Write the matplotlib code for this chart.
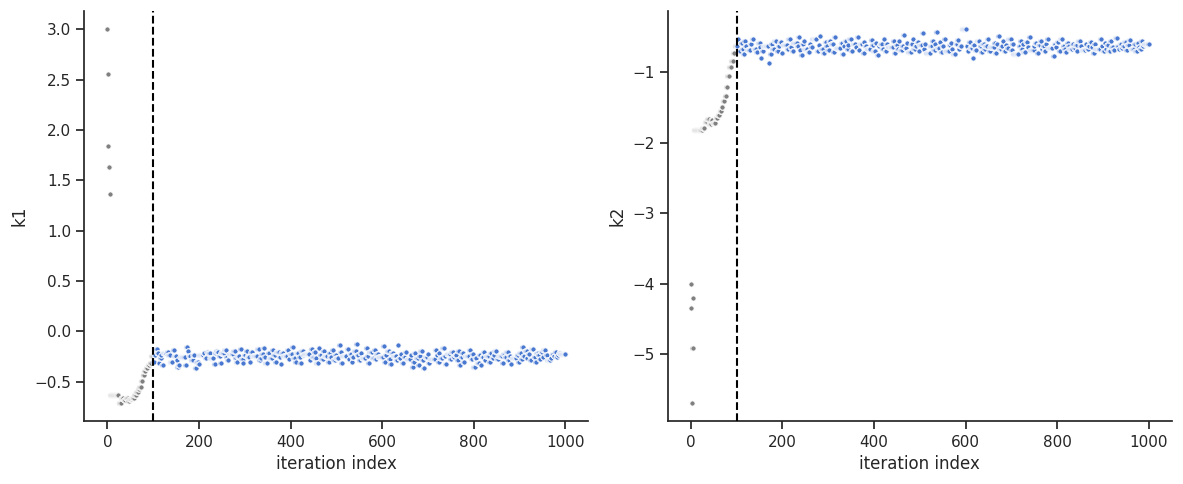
import numpy as np
import matplotlib
matplotlib.use("Agg")
import matplotlib.pyplot as plt
import seaborn as sns

# ---- data: MCMC chain stored as accepted states and how many iterations each lasted ----
burn_runs = [1, 1, 1, 2, 1, 19, 5, 6, 4, 5, 3, 6, 5, 4, 4, 3, 4, 3, 3, 4, 4, 4, 4, 4]
k1_burn = [3.00, 2.56, 1.84, 1.63, 1.36, -0.63, -0.71, -0.66, -0.68, -0.66,
           -0.69, -0.67, -0.66, -0.63, -0.60, -0.57, -0.55, -0.49, -0.43, -0.39,
           -0.36, -0.33, -0.31, -0.25]
k2_burn = [-4.00, -4.34, -5.69, -4.91, -4.20, -1.82, -1.79, -1.70, -1.66, -1.73,
           -1.68, -1.72, -1.65, -1.60, -1.55, -1.49, -1.40, -1.33, -1.20, -1.05,
           -0.92, -0.84, -0.72, -0.62]

post_runs = [
    2, 3, 4, 3, 2, 3, 2, 3, 8, 3,
    4, 6, 3, 5, 2, 2, 3, 12, 2, 3,
    3, 4, 5, 4, 3, 4, 3, 9, 3, 4,
    3, 4, 8, 3, 3, 2, 3, 3, 2, 7,
    5, 2, 3, 10, 4, 2, 3, 5, 3, 4,
    2, 4, 3, 6, 2, 3, 11, 4, 3, 2,
    4, 3, 2, 5, 3, 7, 2, 4, 3, 6,
    3, 2, 4, 9, 3, 2, 5, 3, 4, 2,
    6, 3, 2, 4, 3, 12, 2, 3, 4, 3,
    2, 5, 3, 3, 4, 2, 8, 3, 2, 4,
    3, 4, 2, 6, 3, 3, 2, 10, 4, 2,
    4, 2, 3, 5, 2, 4, 3, 3, 9, 3,
    2, 3, 6, 4, 3, 2, 4, 11, 2, 3,
    3, 5, 2, 3, 4, 7, 3, 2, 4, 3,
    4, 3, 3, 9, 2, 4, 2, 3, 5, 3,
    2, 4, 3, 3, 6, 2, 3, 12, 3, 2,
    3, 2, 5, 4, 3, 3, 8, 2, 4, 3,
    5, 3, 2, 3, 4, 2, 3, 10, 3, 4,
    2, 4, 3, 6, 3, 2, 4, 3, 2, 7,
    3, 3, 4, 2, 5, 3, 9, 2, 4, 3,
    4, 2, 3, 3, 11, 3, 2, 4, 3, 2,
    3, 5, 2, 4, 3, 6, 3, 2, 4, 3,
    3, 4, 2, 5, 3, 8, 2, 4, 3, 3,
    3, 2, 4, 12,
]
k1_post = [
    -0.30, -0.24, -0.18, -0.22, -0.31, -0.27, -0.24, -0.33, -0.22, -0.21,
    -0.24, -0.30, -0.19, -0.25, -0.29, -0.35, -0.33, -0.26, -0.33, -0.16,
    -0.20, -0.25, -0.29, -0.24, -0.36, -0.30, -0.32, -0.24, -0.22, -0.27,
    -0.21, -0.22, -0.27, -0.32, -0.22, -0.20, -0.21, -0.25, -0.31, -0.22,
    -0.19, -0.26, -0.29, -0.23, -0.20, -0.27, -0.30, -0.25, -0.18, -0.28,
    -0.31, -0.24, -0.20, -0.26, -0.30, -0.21, -0.25, -0.18, -0.29, -0.27,
    -0.23, -0.17, -0.26, -0.31, -0.22, -0.27, -0.19, -0.24, -0.30, -0.21,
    -0.26, -0.32, -0.22, -0.25, -0.19, -0.28, -0.23, -0.16, -0.27, -0.30,
    -0.22, -0.26, -0.31, -0.20, -0.24, -0.23, -0.29, -0.18, -0.26, -0.21,
    -0.27, -0.31, -0.17, -0.24, -0.28, -0.20, -0.25, -0.30, -0.22, -0.26,
    -0.19, -0.29, -0.24, -0.27, -0.14, -0.21, -0.31, -0.25, -0.18, -0.28,
    -0.23, -0.30, -0.26, -0.20, -0.13, -0.24, -0.29, -0.22, -0.27, -0.17,
    -0.25, -0.31, -0.21, -0.27, -0.19, -0.28, -0.23, -0.26, -0.15, -0.30,
    -0.24, -0.20, -0.28, -0.32, -0.22, -0.25, -0.29, -0.14, -0.27, -0.23,
    -0.31, -0.26, -0.21, -0.28, -0.24, -0.35, -0.30, -0.22, -0.27, -0.33,
    -0.25, -0.20, -0.29, -0.36, -0.26, -0.23, -0.31, -0.28, -0.19, -0.24,
    -0.30, -0.22, -0.27, -0.17, -0.25, -0.32, -0.23, -0.28, -0.21, -0.26,
    -0.24, -0.29, -0.20, -0.33, -0.26, -0.22, -0.30, -0.25, -0.19, -0.28,
    -0.23, -0.35, -0.27, -0.31, -0.24, -0.33, -0.26, -0.21, -0.29, -0.25,
    -0.30, -0.22, -0.27, -0.24, -0.20, -0.28, -0.25, -0.31, -0.23, -0.26,
    -0.21, -0.29, -0.25, -0.32, -0.27, -0.24, -0.30, -0.22, -0.28, -0.16,
    -0.25, -0.20, -0.27, -0.23, -0.29, -0.18, -0.26, -0.30, -0.22, -0.24,
    -0.28, -0.21, -0.26, -0.19, -0.24, -0.29, -0.27, -0.23, -0.25, -0.21,
    -0.26, -0.24, -0.22, -0.23,
]
k2_post = [
    -0.62, -0.52, -0.70, -0.58, -0.66, -0.74, -0.55, -0.63, -0.68, -0.60,
    -0.53, -0.66, -0.71, -0.58, -0.64, -0.79, -0.69, -0.62, -0.86, -0.74,
    -0.60, -0.66, -0.55, -0.70, -0.63, -0.57, -0.72, -0.61, -0.67, -0.53,
    -0.64, -0.70, -0.58, -0.62, -0.50, -0.68, -0.75, -0.60, -0.55, -0.66,
    -0.71, -0.59, -0.64, -0.52, -0.69, -0.61, -0.48, -0.66, -0.73, -0.57,
    -0.63, -0.68, -0.55, -0.60, -0.71, -0.50, -0.65, -0.58, -0.74, -0.62,
    -0.56, -0.67, -0.61, -0.52, -0.70, -0.59, -0.64, -0.49, -0.68, -0.60,
    -0.72, -0.57, -0.63, -0.66, -0.54, -0.61, -0.69, -0.58, -0.75, -0.62,
    -0.60, -0.67, -0.53, -0.70, -0.59, -0.64, -0.56, -0.72, -0.61, -0.66,
    -0.55, -0.68, -0.62, -0.47, -0.65, -0.58, -0.71, -0.60, -0.53, -0.67,
    -0.63, -0.57, -0.70, -0.61, -0.44, -0.66, -0.59, -0.73, -0.62, -0.55,
    -0.68, -0.60, -0.42, -0.65, -0.57, -0.71, -0.63, -0.52, -0.69, -0.61,
    -0.58, -0.66, -0.74, -0.60, -0.54, -0.67, -0.62, -0.39, -0.63, -0.70,
    -0.57, -0.65, -0.80, -0.61, -0.68, -0.55, -0.63, -0.71, -0.59, -0.66,
    -0.62, -0.53, -0.69, -0.64, -0.58, -0.72, -0.60, -0.48, -0.67, -0.63,
    -0.56, -0.70, -0.61, -0.65, -0.52, -0.68, -0.59, -0.74, -0.62, -0.55,
    -0.66, -0.60, -0.71, -0.57, -0.64, -0.50, -0.68, -0.62, -0.58, -0.73,
    -0.61, -0.55, -0.67, -0.63, -0.70, -0.59, -0.52, -0.65, -0.77, -0.60,
    -0.64, -0.57, -0.69, -0.53, -0.62, -0.66, -0.71, -0.58, -0.63, -0.67,
    -0.59, -0.65, -0.61, -0.70, -0.56, -0.63, -0.68, -0.60, -0.66, -0.62,
    -0.57, -0.64, -0.72, -0.60, -0.67, -0.53, -0.63, -0.69, -0.58, -0.66,
    -0.61, -0.70, -0.55, -0.64, -0.68, -0.51, -0.62, -0.66, -0.59, -0.65,
    -0.63, -0.57, -0.68, -0.61, -0.54, -0.66, -0.60, -0.70, -0.58, -0.64,
    -0.67, -0.55, -0.62, -0.60,
]
burn_in = 100
param_names = ["k1", "k2"]

# ---- expand chain ----
runs = np.array(burn_runs + post_runs)
chains = {
    "k1": np.repeat(np.array(k1_burn + k1_post), runs),
    "k2": np.repeat(np.array(k2_burn + k2_post), runs),
}
iters = np.arange(len(chains["k1"]))

sns.set_theme(style="ticks")
fig, axes = plt.subplots(1, 2, figsize=(11.83, 4.84), dpi=100)
blue = "#4878d0"
gray = "#808080"
for ax, name in zip(axes, param_names):
    y = chains[name]
    burn = iters < burn_in
    ax.scatter(iters[burn], y[burn], s=14, color=gray, edgecolor="white", linewidth=0.6, zorder=2)
    ax.scatter(iters[~burn], y[~burn], s=14, color=blue, edgecolor="white", linewidth=0.6, zorder=2)
    ax.axvline(burn_in, color="black", linestyle="--", linewidth=1.5, zorder=3)
    ax.set_xlabel("iteration index")
    ax.set_ylabel(name)
    sns.despine(ax=ax)

fig.tight_layout(pad=0.65, w_pad=1.2)
fig.savefig("out.png", dpi=100)
